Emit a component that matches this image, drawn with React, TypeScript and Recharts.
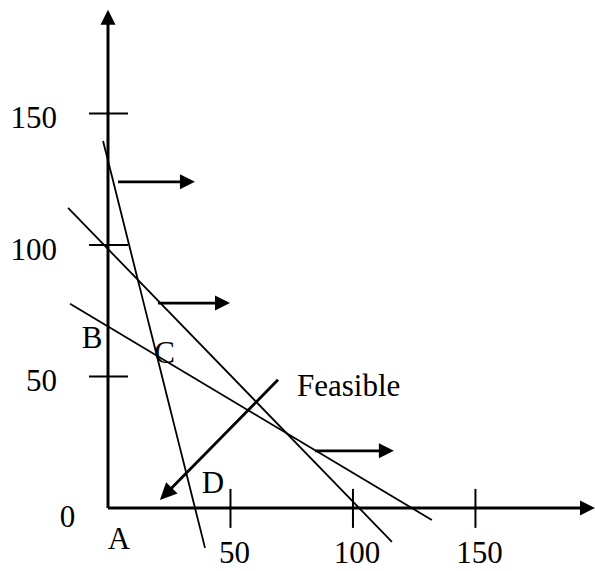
import React from "react";
import { ComposedChart, Line, Scatter, XAxis, YAxis, ReferenceLine } from "recharts";

// constraint lines, end points
const constraintA = [
  { x: -2, y: 139.5 },
  { x: 39.6, y: -15.2 },
];
const constraintB = [
  { x: -16.3, y: 114.1 },
  { x: 115.9, y: -12.9 },
];
const constraintC = [
  { x: -15.5, y: 77.6 },
  { x: 132.2, y: -4.6 },
];

// horizontal arrows showing the side of each constraint
const directionArrows = [
  { x1: 4.1, x2: 35.5, y: 124 },
  { x1: 20.4, x2: 49.8, y: 77.9 },
  { x1: 84.5, x2: 116.7, y: 21.7 },
];
const feasibleArrow = { x1: 69.4, y1: 48.7, x2: 21.2, y2: 3.0 };

const xTicks = [50, 100, 150];
const yTicks = [50, 100, 150];
const cornerPoints = [
  { name: "A", x: 0, y: 0 },
  { name: "B", x: 0, y: 69 },
  { name: "C", x: 20, y: 58 },
  { name: "D", x: 35.5, y: 0 },
];
const xAxisEnd = 198.8;
const yAxisEnd = 189.4;

const FONT = "'Liberation Serif', 'Times New Roman', serif";
const labelOffset: Record<string, [number, number]> = {
  A: [11, 41],
  B: [-16, 22],
  C: [7.5, 7.5],
  D: [18, -15],
};

function arrowShape(width: number, head = 15, half = 7.5) {
  return (p: any) => {
    const { x1, y1, x2, y2 } = p;
    const len = Math.hypot(x2 - x1, y2 - y1) || 1;
    const ux = (x2 - x1) / len;
    const uy = (y2 - y1) / len;
    const bx = x2 - ux * head;
    const by = y2 - uy * head;
    const pts = [
      [x2, y2],
      [bx - uy * half, by + ux * half],
      [bx + uy * half, by - ux * half],
    ]
      .map((q) => q.join(","))
      .join(" ");
    return (
      <g>
        <line x1={x1} y1={y1} x2={bx + ux} y2={by + uy} stroke="#000" strokeWidth={width} />
        <polygon points={pts} fill="#000" />
      </g>
    );
  };
}

const txt = (x: number, y: number, s: string, anchor: "start" | "middle" | "end" = "middle") => (
  <text x={x} y={y} textAnchor={anchor} fontFamily={FONT} fontSize={31} fill="#000">
    {s}
  </text>
);

export default function App() {
  const xTickData = xTicks.map((v) => ({ x: v, y: 0, name: String(v) }));
  const yTickData = yTicks.map((v) => ({ x: 0, y: v, name: String(v) }));
  const origin = [{ x: 0, y: 0, name: "0" }];
  const feasibleTail = [{ x: feasibleArrow.x1, y: feasibleArrow.y1, name: "Feasible" }];

  return (
    <div style={{ position: "absolute", left: 0, top: 0, background: "#fff" }}>
      <ComposedChart width={595} height={571} margin={{ top: 3, right: 0, bottom: 0, left: 10 }}>
        <XAxis type="number" dataKey="x" domain={[-40, 198.8]} allowDataOverflow hide />
        <YAxis type="number" dataKey="y" domain={[-24, 192]} allowDataOverflow hide />

        {/* axes */}
        <ReferenceLine
          segment={[{ x: 0, y: 0 }, { x: xAxisEnd, y: 0 }]}
          ifOverflow="visible"
          shape={arrowShape(3)}
        />
        <ReferenceLine
          segment={[{ x: 0, y: 0 }, { x: 0, y: yAxisEnd }]}
          ifOverflow="visible"
          shape={arrowShape(3)}
        />

        <Scatter
          data={xTickData}
          isAnimationActive={false}
          shape={(p: any) => (
            <g>
              <line x1={p.cx} y1={p.cy - 19} x2={p.cx} y2={p.cy + 20} stroke="#000" strokeWidth={2} />
              {txt(p.cx + 4, p.cy + 55, p.payload.name)}
            </g>
          )}
        />
        <Scatter
          data={yTickData}
          isAnimationActive={false}
          shape={(p: any) => (
            <g>
              <line x1={p.cx - 19} y1={p.cy} x2={p.cx + 20} y2={p.cy} stroke="#000" strokeWidth={2} />
              {txt(p.cx - 51, p.cy + 15, p.payload.name, "end")}
            </g>
          )}
        />
        <Scatter
          data={origin}
          isAnimationActive={false}
          shape={(p: any) => txt(p.cx - 40.5, p.cy + 19, p.payload.name)}
        />

        {/* constraints */}
        <Line data={constraintA} dataKey="y" type="linear" stroke="#000" strokeWidth={1.8} dot={false} isAnimationActive={false} />
        <Line data={constraintB} dataKey="y" type="linear" stroke="#000" strokeWidth={1.8} dot={false} isAnimationActive={false} />
        <Line data={constraintC} dataKey="y" type="linear" stroke="#000" strokeWidth={1.8} dot={false} isAnimationActive={false} />

        {directionArrows.map((a, i) => (
          <ReferenceLine
            key={i}
            segment={[{ x: a.x1, y: a.y }, { x: a.x2, y: a.y }]}
            ifOverflow="visible"
            shape={arrowShape(2.8)}
          />
        ))}
        <ReferenceLine
          segment={[
            { x: feasibleArrow.x1, y: feasibleArrow.y1 },
            { x: feasibleArrow.x2, y: feasibleArrow.y2 },
          ]}
          ifOverflow="visible"
          shape={arrowShape(2.8, 17, 8)}
        />
        <Scatter
          data={feasibleTail}
          isAnimationActive={false}
          shape={(p: any) => txt(p.cx + 19, p.cy + 16, p.payload.name, "start")}
        />

        <Scatter
          data={cornerPoints}
          isAnimationActive={false}
          shape={(p: any) => {
            const [dx, dy] = labelOffset[p.payload.name];
            return txt(p.cx + dx, p.cy + dy, p.payload.name);
          }}
        />
      </ComposedChart>
    </div>
  );
}
